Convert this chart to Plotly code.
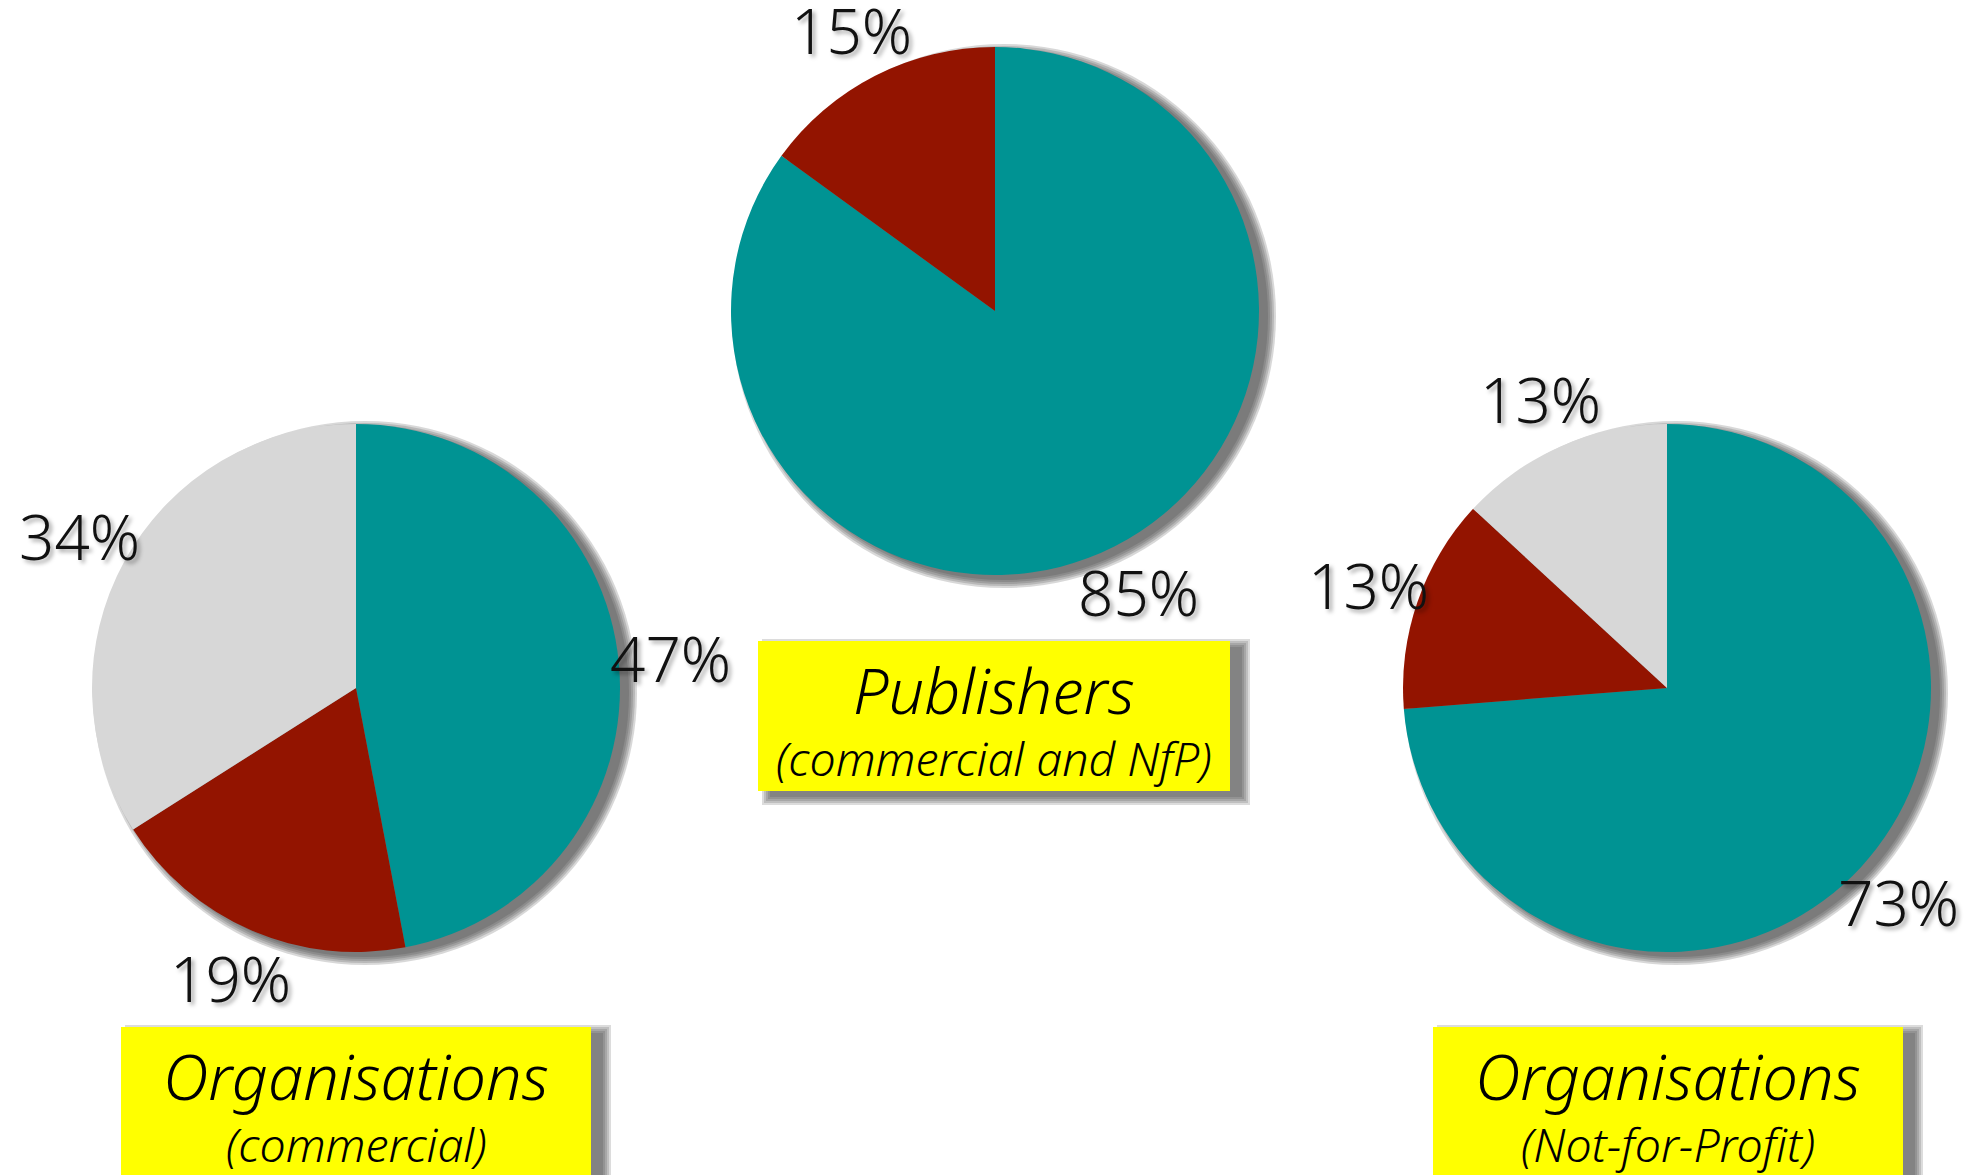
import math
import plotly.graph_objects as go

W, H = 1985, 1175

# ---------------- data ----------------
categories = ["Yes", "No", "Don't know"]
org_commercial_values = [47, 19, 34]
publishers_values = [85, 15]
org_nfp_values = [73, 13, 13]

org_commercial_text = ["47%", "19%", "34%"]
publishers_text = ["85%", "15%"]
org_nfp_text = ["73%", "13%", "13%"]

box_titles = ["Organisations", "Publishers", "Organisations"]
box_subtitles = ["(commercial)", "(commercial and NfP)", "(Not-for-Profit)"]

# ---------------- style ----------------
colors = ["#009393", "#931400", "#d7d7d7"]
FONT = "'Noto Sans', Lato, 'Liberation Sans', sans-serif"
LABEL_DIST = 1.195  # label centre distance, in pie radii

# pie geometry (pixels): center x, center y, radius
pies = [
    dict(values=org_commercial_values, text=org_commercial_text, cx=356, cy=688, r=264),
    dict(values=publishers_values, text=publishers_text, cx=995, cy=311, r=264),
    dict(values=org_nfp_values, text=org_nfp_text, cx=1667, cy=688, r=264),
]
# label boxes (pixels): x0, y0, x1, y1
boxes = [(121, 1027, 591, 1200), (758, 641, 1230, 791), (1433, 1027, 1903, 1200)]

fig = go.Figure()

# invisible pixel axes for shapes / annotations
fig.add_trace(go.Scatter(x=[0, W], y=[0, H], mode="markers",
                         marker=dict(opacity=0), hoverinfo="skip", showlegend=False))

shapes = []
annotations = []
SH_DX, SH_DY = 9, 5
for p in pies:
    # soft drop shadow (stacked, growing translucent discs)
    for k in (8, 6, 4, 2, 0):
        rr = p["r"] + k
        shapes.append(dict(type="circle", xref="x", yref="y", layer="below",
                           x0=p["cx"] + SH_DX - rr, x1=p["cx"] + SH_DX + rr,
                           y0=p["cy"] + SH_DY - rr, y1=p["cy"] + SH_DY + rr,
                           fillcolor="rgba(60,60,60,0.2)", line=dict(width=0)))
    fig.add_trace(go.Pie(
        values=p["values"], labels=categories[:len(p["values"])],
        textinfo="none",
        marker=dict(colors=colors[:len(p["values"])], line=dict(width=0)),
        sort=False, direction="clockwise", rotation=0,
        domain=dict(x=[(p["cx"] - p["r"]) / W, (p["cx"] + p["r"]) / W],
                    y=[1 - (p["cy"] + p["r"]) / H, 1 - (p["cy"] - p["r"]) / H]),
        showlegend=False, hoverinfo="label+percent",
    ))
    # percentage labels at the mid-angle of each slice
    total = sum(p["values"])
    cum = 0
    for v, t in zip(p["values"], p["text"]):
        mid = (cum + v / 2) / total * 2 * math.pi
        cum += v
        annotations.append(dict(
            x=p["cx"] + LABEL_DIST * p["r"] * math.sin(mid),
            y=p["cy"] - LABEL_DIST * p["r"] * math.cos(mid),
            xref="x", yref="y", text=t, showarrow=False,
            font=dict(size=62, color="#111111", family=FONT, weight=300,
                      shadow="3px 3px 4px rgba(0,0,0,0.35)")))

for (x0, y0, x1, y1), t, s in zip(boxes, box_titles, box_subtitles):
    for k in (8, 6, 4, 2, 0):
        shapes.append(dict(type="rect", xref="x", yref="y", layer="below",
                           x0=x0 + 12 - k, x1=x1 + 12 + k, y0=y0 + 6 - k, y1=y1 + 6 + k,
                           fillcolor="rgba(60,60,60,0.18)", line=dict(width=0)))
    shapes.append(dict(type="rect", xref="x", yref="y", layer="below",
                       x0=x0, x1=x1, y0=y0, y1=y1,
                       fillcolor="#ffff00", line=dict(width=0)))
    cx = (x0 + x1) / 2
    annotations.append(dict(x=cx, y=y0 + 48, xref="x", yref="y", text="<i>%s</i>" % t,
                            showarrow=False, font=dict(size=63, color="black", family=FONT, weight=300)))
    annotations.append(dict(x=cx, y=y0 + 117, xref="x", yref="y", text="<i>%s</i>" % s,
                            showarrow=False, font=dict(size=46.5, color="black", family=FONT, weight=300)))

fig.update_layout(
    width=W, height=H,
    margin=dict(l=0, r=0, t=0, b=0, pad=0),
    paper_bgcolor="white", plot_bgcolor="white",
    xaxis=dict(range=[0, W], visible=False, fixedrange=True, automargin=False),
    yaxis=dict(range=[H, 0], visible=False, fixedrange=True, automargin=False),
    shapes=shapes, annotations=annotations, showlegend=False,
)

fig.write_html("out.html", config={"displayModeBar": False},
               post_script="document.body.style.margin='0';document.body.style.overflow='hidden';")
